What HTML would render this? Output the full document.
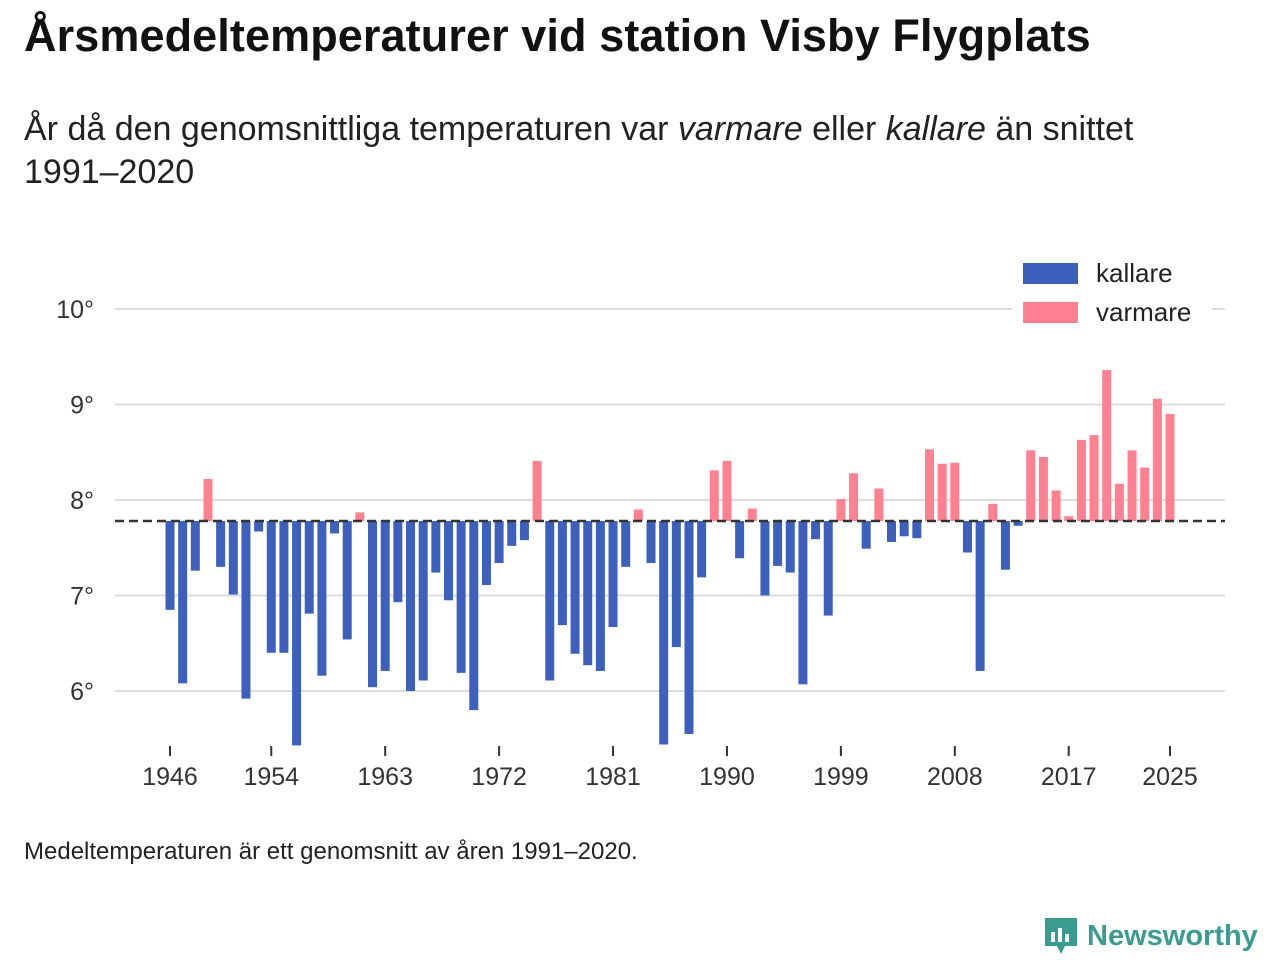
<!DOCTYPE html>
<html><head><meta charset="utf-8"><style>
body{margin:0;width:1280px;height:960px;background:#fff;font-family:"Liberation Sans","DejaVu Sans",sans-serif;color:#111;position:relative;overflow:hidden}
h1{position:absolute;left:24px;top:10px;margin:0;font-size:45px;font-weight:bold;letter-spacing:0.1px;white-space:nowrap}
.sub{position:absolute;left:24px;top:108px;font-size:34px;line-height:43px;width:1240px;color:#222}
.note{position:absolute;left:24px;top:838px;font-size:24px;color:#222}
.logo{position:absolute;left:1043px;top:916px;font-size:29px;font-weight:bold;color:#3a9c8f;display:flex;align-items:center;gap:8px}
svg{position:absolute;left:0;top:0}
</style></head><body>
<h1>Årsmedeltemperaturer vid station Visby Flygplats</h1>
<div class="sub">År då den genomsnittliga temperaturen var <i>varmare</i> eller <i>kallare</i> än snittet<br>1991–2020</div>
<svg id="chart" width="1280" height="960"></svg>
<div class="note">Medeltemperaturen är ett genomsnitt av åren 1991–2020.</div>
<div class="logo"><svg width="36" height="40" style="position:static" viewBox="0 0 36 40"><path d="M2 2h32v28H22l-4 8-4-8H2z" fill="#3a9c8f"/><rect x="8" y="16" width="4" height="10" fill="#fff"/><rect x="15" y="12" width="4" height="14" fill="#fff"/><rect x="22" y="18" width="4" height="8" fill="#fff"/></svg>Newsworthy</div>
<script>
const years=[];for(let y=1946;y<=2025;y++)years.push(y);
const temps=[6.85,6.08,7.26,8.22,7.30,7.01,5.92,7.67,6.40,6.40,5.43,6.81,6.16,7.65,6.54,7.87,6.04,6.21,6.93,6.00,6.11,7.24,6.95,6.19,5.80,7.11,7.34,7.52,7.58,8.41,6.11,6.69,6.39,6.27,6.21,6.67,7.30,7.90,7.34,5.44,6.46,5.55,7.19,8.31,8.41,7.39,7.91,7.00,7.31,7.24,6.07,7.59,6.79,8.01,8.28,7.49,8.12,7.56,7.62,7.60,8.53,8.38,8.39,7.45,6.21,7.96,7.27,7.73,8.52,8.45,8.10,7.83,8.63,8.68,9.36,8.17,8.52,8.34,9.06,8.90];
const baseline=7.78;
const yTicks=[6,7,8,9,10];
const xTicks=[1946,1954,1963,1972,1981,1990,1999,2008,2017,2025];
const NS='http://www.w3.org/2000/svg';
const svg=document.getElementById('chart');
const yS=v=>500-(v-8)*95.5;
const xS=y=>170+(y-1946)*(1000/79);
function mk(t,a){const e=document.createElementNS(NS,t);for(const k in a)e.setAttribute(k,a[k]);svg.appendChild(e);return e;}
yTicks.forEach(v=>{
  const l=mk('line',{x1:115,x2:1225,y1:yS(v),y2:yS(v),stroke:'#ddd','stroke-width':2});
  
  
  const t=mk('text',{x:94,y:yS(v)+9,'text-anchor':'end','font-size':25,fill:'#333'});t.textContent=v+'°';
  
  
});
xTicks.forEach(y=>{
  const l=mk('line',{x1:xS(y),x2:xS(y),y1:746,y2:756,stroke:'#333','stroke-width':2});
  
  
  const t=mk('text',{x:xS(y),y:785,'text-anchor':'middle','font-size':25,fill:'#333'});t.textContent=y;
  
  
});
years.forEach((y,i)=>{
  const v=temps[i];const y0=yS(baseline),y1=yS(v);
  const r=mk('rect',{x:xS(y)-4.5,width:9,y:Math.min(y0,y1),height:Math.abs(y1-y0),fill:v>=baseline?'#ff8090':'#3d60bc'});
  
  
});
const bl=mk('line',{x1:115,x2:1225,y1:yS(baseline),y2:yS(baseline),stroke:'#333','stroke-width':2.5,'stroke-dasharray':'9,5'});


const lb=mk('rect',{x:1012,y:255,width:200,height:80,fill:'#fff'});


[['kallare','#3d60bc',263],['varmare','#ff8090',302]].forEach(([n,c,yy])=>{
  const r=mk('rect',{x:1023,y:yy,width:55,height:21,fill:c});
  
  
  const t=mk('text',{x:1096,y:yy+19,'font-size':26,fill:'#222'});t.textContent=n;
  
  
});
</script>
</body></html>
